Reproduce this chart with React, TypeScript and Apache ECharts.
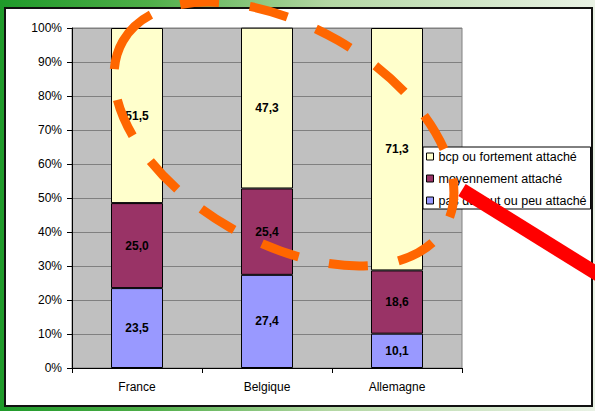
import React, { useEffect, useRef } from "react";
import * as echarts from "echarts";

const categories = ["France", "Belgique", "Allemagne"];
const seriesNames = ["pas du tout ou peu attaché", "moyennement attaché", "bcp ou fortement attaché"];
const lowValues = [23.5, 27.4, 10.1];
const midValues = [25.0, 25.4, 18.6];
const highValues = [51.5, 47.3, 71.3];
const seriesColors = ["#9999FF", "#993366", "#FFFFCC"];
const legendOrder = ["bcp ou fortement attaché", "moyennement attaché", "pas du tout ou peu attaché"];

const FONT = "'Liberation Sans', Arial, sans-serif";

export default function App() {
  const ref = useRef<HTMLDivElement>(null);
  useEffect(() => {
    if (!ref.current) return;
    const chart = echarts.init(ref.current, undefined, { renderer: "svg" });
    const dataSets = [lowValues, midValues, highValues];
    chart.setOption({
      animation: false,
      backgroundColor: "transparent",
      grid: {
        left: 72,
        right: 133,
        top: 28,
        bottom: 43,
        show: true,
        backgroundColor: "#C0C0C0",
        borderColor: "#808080",
        borderWidth: 1,
      },
      legend: {
        orient: "vertical",
        left: 423,
        top: 147,
        data: legendOrder,
        backgroundColor: "#FFFFFF",
        borderColor: "#000000",
        borderWidth: 1,
        padding: [3, 4, 2, 3],
        itemWidth: 7,
        itemHeight: 7,
        itemGap: 9,
        icon: "rect",
        textStyle: { fontSize: 12.5, color: "#000", fontFamily: FONT },
        itemStyle: { borderColor: "#000", borderWidth: 1 },
      },
      xAxis: {
        type: "category",
        data: categories,
        axisLine: { show: true, lineStyle: { color: "#000", width: 1 } },
        axisTick: { show: true, length: 5, alignWithLabel: false, lineStyle: { color: "#000" } },
        axisLabel: { color: "#000", fontSize: 12, fontFamily: FONT, margin: 13 },
        splitLine: { show: false },
      },
      yAxis: {
        type: "value",
        min: 0,
        max: 100,
        interval: 10,
        axisLine: { show: true, lineStyle: { color: "#000", width: 1 } },
        axisTick: { show: true, length: 5, lineStyle: { color: "#000" } },
        axisLabel: { formatter: "{value}%", color: "#000", fontSize: 12, fontFamily: FONT, margin: 10 },
        splitLine: { show: true, lineStyle: { color: "#808080", width: 1 } },
      },
      series: seriesNames.map((name, i) => ({
        name,
        type: "bar",
        stack: "total",
        barWidth: 52,
        data: dataSets[i],
        itemStyle: { color: seriesColors[i], borderColor: "#000", borderWidth: 1 },
        label: {
          show: true,
          position: "inside",
          color: "#000",
          fontWeight: "bold",
          fontSize: 12,
          fontFamily: FONT,
          formatter: (p: any) => Number(p.value).toFixed(1).replace(".", ","),
        },
      })),
      graphic: [
        {
          type: "line",
          z: 100,
          shape: { x1: 462, y1: 190, x2: 615, y2: 285 },
          style: { stroke: "#FF0000", lineWidth: 14 },
        },
        {
          type: "ellipse",
          z: 101,
          x: 284,
          y: 134,
          rotation: -Math.PI / 6,
          shape: { cx: 0, cy: 0, rx: 186, ry: 108 },
          style: { fill: "none", stroke: "#FF6600", lineWidth: 9, lineDash: [39, 31], lineCap: "butt" },
        },
      ],
    });
    return () => chart.dispose();
  }, []);

  return (
    <div
      style={{
        position: "fixed",
        left: 0,
        top: 0,
        width: 595,
        height: 411,
        background: "linear-gradient(90deg, #1f9a2a 0%, #4fae48 25%, #b3d7a3 55%, #e9f2e5 100%)",
        overflow: "hidden",
      }}
    >
      <div
        style={{
          position: "absolute",
          left: 4,
          top: 7,
          width: 589,
          height: 400,
          boxSizing: "border-box",
          background: "#FFFFFF",
          border: "2px solid #111",
        }}
      />
      <div ref={ref} style={{ position: "absolute", left: 0, top: 0, width: 595, height: 411 }} />
    </div>
  );
}
